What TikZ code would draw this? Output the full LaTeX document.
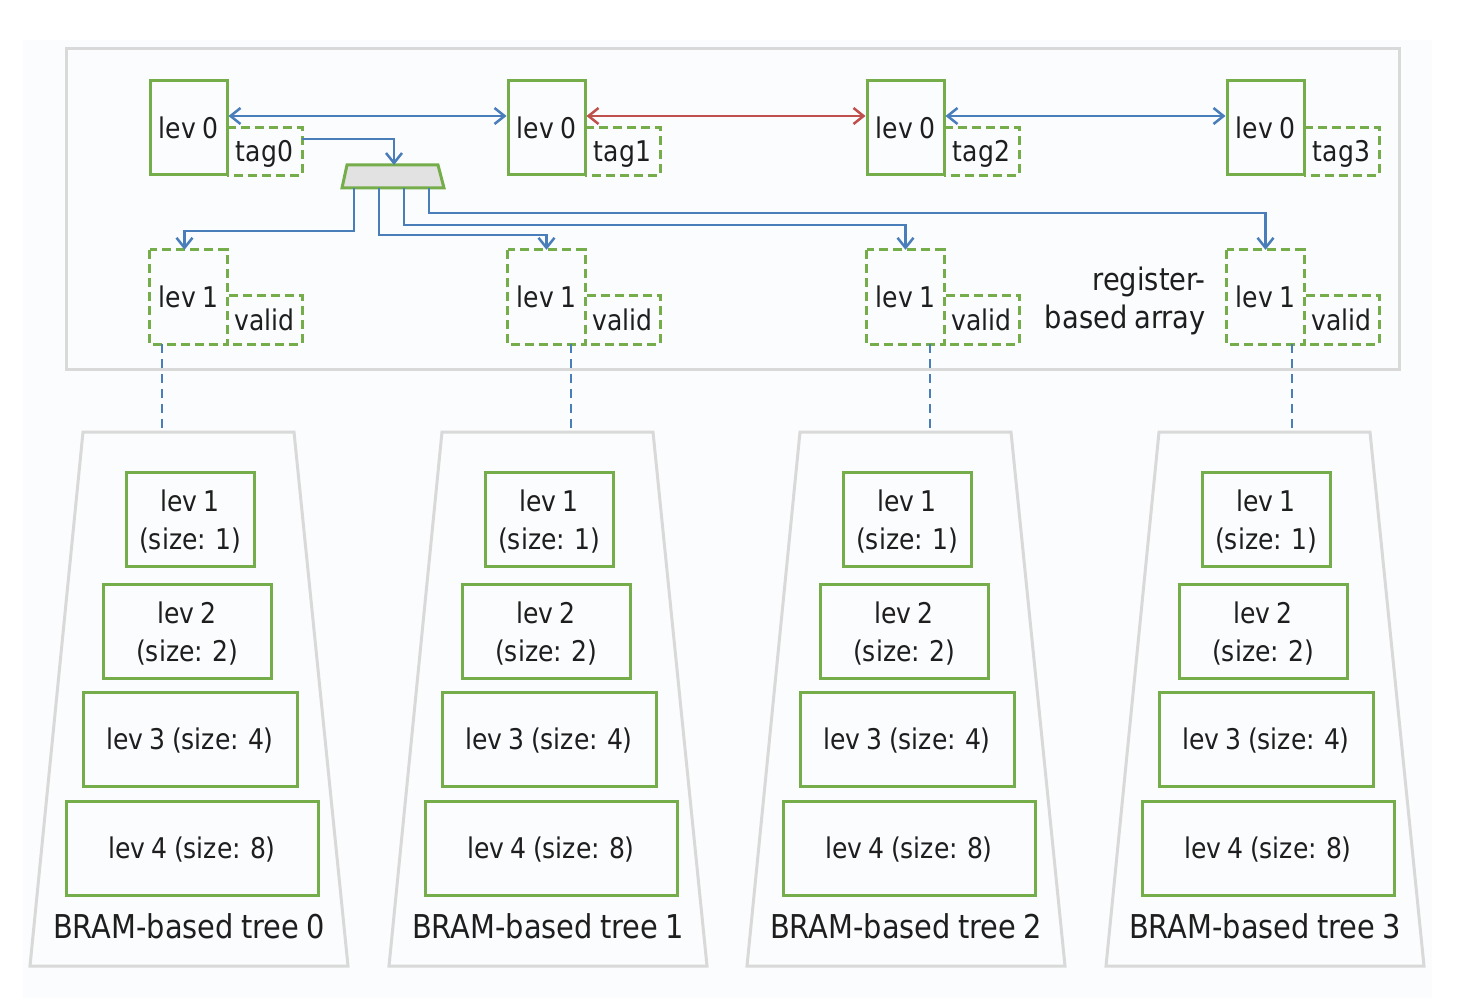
\documentclass[tikz,border=0pt]{standalone}
\usepackage{fontspec}
\setmainfont{DejaVu Sans}[FakeStretch=0.88,WordSpace=0.8]
\usetikzlibrary{arrows.meta,shapes.geometric,calc}
\definecolor{gr}{HTML}{75AD4A}
\definecolor{bl}{HTML}{4A7EBB}
\definecolor{rd}{HTML}{C0504D}
\definecolor{bord}{HTML}{D9D9D9}
\definecolor{pale}{HTML}{FBFCFE}
\definecolor{txt}{HTML}{1E1E1E}
\definecolor{muxfill}{HTML}{E2E2E2}
\tikzset{
  boxtext/.style={font=\fontsize{28.5}{38}\selectfont, text=txt},
  oneline/.style={text height=21pt, text depth=0pt},
  solidbox/.style={boxtext, draw=gr, line width=3pt, inner sep=0pt, align=center},
  plainbox/.style={boxtext, inner sep=0pt, oneline},
  gdash/.style={draw=gr, line width=3pt, dash pattern=on 9pt off 5pt},
  bdash/.style={draw=bl, line width=2.5pt, dash pattern=on 9pt off 6pt},
  barr/.style={draw=bl, line width=2.5pt, -{Straight Barb[length=10pt,width=16pt]}},
  dbarr/.style={draw=bl, line width=2.5pt, {Straight Barb[length=10pt,width=16pt]}-{Straight Barb[length=10pt,width=16pt]}},
  drarr/.style={draw=rd, line width=2.5pt, {Straight Barb[length=10pt,width=16pt]}-{Straight Barb[length=10pt,width=16pt]}},
  container/.style={draw=bord, fill=pale, line width=3pt},
}
\newcommand{\twol}[2]{\raisebox{-4pt}[\height][\depth]{\begin{tabular}{@{}c@{}}#1\\#2\end{tabular}}}
\begin{document}
\begin{tikzpicture}[x=1pt,y=-1pt]
\useasboundingbox (0,0) rectangle (1457,1000);
\fill[white] (0,0) rectangle (1457,1000);
\fill[pale] (23,40) rectangle (1432,998);
% register-based array container
\draw[container] (66,49) rectangle (1399,370);
% top rows
\foreach \i/\o in {0/0,1/358,2/717,3/1077}{
  \node[solidbox, oneline, minimum width=77pt, minimum height=94pt] (l0-\i) at (188.5+\o,128) {lev 0};
  \node[plainbox, minimum width=75pt, minimum height=47pt] (tag-\i) at (264.5+\o,151.5) {tag\i};
  \draw[gdash] (tag-\i.north west) -- (tag-\i.north east) -- (tag-\i.south east) -- (tag-\i.south west);
  \node[plainbox, minimum width=77pt, minimum height=94pt] (l1-\i) at (188.5+\o,297) {lev 1};
  \draw[gdash] (l1-\i.north west) rectangle (l1-\i.south east);
  \node[plainbox, minimum width=75pt, minimum height=48pt] (valid-\i) at (264.5+\o,320) {valid};
  \draw[gdash] ([xshift=2pt]valid-\i.north west) -- (valid-\i.north east) -- (valid-\i.south east) -- (valid-\i.south west);
}
\node[boxtext, font=\fontsize{31}{38}\selectfont, align=right, anchor=east, inner sep=0pt] (reg) at (1206,301) {register-\\based array};
% mux
\draw[draw=gr, fill=muxfill, line width=3pt] (347,165) -- (438,165) -- (444,188) -- (342,188) -- cycle;
\coordinate (muxtop) at (394,165);
\coordinate (muxbot) at (393,188);
% connectors top
\draw[dbarr] ([yshift=12pt]l0-0.east) -- ([yshift=12pt]l0-1.west);
\draw[drarr] ([yshift=12pt]l0-1.east) -- ([yshift=12pt]l0-2.west);
\draw[dbarr] ([yshift=12pt]l0-2.east) -- ([yshift=12pt]l0-3.west);
\draw[barr] ([yshift=12.5pt]tag-0.east) -| (muxtop);
\draw[barr] ([xshift=-39pt]muxbot) -- ++(0,43) -| ([xshift=-4pt]l1-0.north);
\draw[barr] ([xshift=-14pt]muxbot) -- ++(0,47) -| (l1-1.north);
\draw[barr] ([xshift=11pt]muxbot) -- ++(0,37) -| (l1-2.north);
\draw[barr] ([xshift=36pt]muxbot) -- ++(0,25) -| (l1-3.north);
% trees
\foreach \i/\o/\dx in {0/0/162,1/359/571,2/717/930,3/1076/1292}{
  \draw[container] (83+\o,432) -- (294+\o,432) -- (348+\o,966) -- (30+\o,966) -- cycle;
  \coordinate (top-\i) at (\dx,430);
  \node[solidbox, minimum width=128pt, minimum height=94pt] (t\i-1) at (190+\o,519) {\twol{lev 1}{(size: 1)}};
  \node[solidbox, minimum width=168pt, minimum height=94pt] (t\i-2) at (187+\o,631) {\twol{lev 2}{(size: 2)}};
  \node[solidbox, oneline, minimum width=214pt, minimum height=94pt] (t\i-3) at (190+\o,739) {lev 3 (size: 4)};
  \node[solidbox, oneline, minimum width=252pt, minimum height=94pt] (t\i-4) at (192+\o,848) {lev 4 (size: 8)};
  \node[font=\fontsize{32.8}{38}\selectfont, text=txt, inner sep=0pt] (tl-\i) at (189+\o,926) {BRAM-based tree \i};
  \draw[bdash] (l1-\i.south -| top-\i) -- (top-\i);
}
\end{tikzpicture}
\end{document}
